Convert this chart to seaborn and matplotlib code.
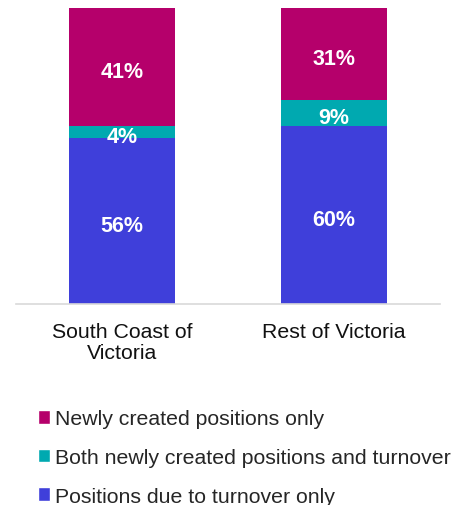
import numpy as np
import pandas as pd
import seaborn as sns
import matplotlib.pyplot as plt
from matplotlib.patches import Patch

regions = ['South Coast of\nVictoria', 'Rest of Victoria']
series = ['Positions due to turnover only',
          'Both newly created positions and turnover',
          'Newly created positions only']
turnover = [56, 60]
both = [4, 9]
newly = [41, 31]
colors = ['#3F3FDA', '#00A9B0', '#B5006B']

sns.set_theme(style='white')
plt.rcParams['font.family'] = ['Liberation Sans', 'DejaVu Sans']

values = np.array([turnover, both, newly])
cum = values.cumsum(axis=0)

fig = plt.figure(figsize=(4.62, 5.06), dpi=100)
ax = fig.add_axes([16 / 462, (506 - 305) / 506, 424 / 462, 296 / 506])

# overlay cumulative bars, tallest first, to get a stacked look
for i in range(len(series) - 1, -1, -1):
    df = pd.DataFrame({'Region': regions, 'Value': cum[i]})
    sns.barplot(data=df, x='Region', y='Value', color=colors[i],
                width=0.5, saturation=1, ax=ax, linewidth=0)

ax.set_ylim(0, 100)
ax.set_xlim(-0.5, 1.5)

# segment labels
for j in range(len(regions)):
    for i in range(len(series)):
        lo = cum[i][j] - values[i][j]
        hi = min(cum[i][j], 100)
        ax.text(j, (lo + hi) / 2 - 1.5, f'{values[i][j]}%', ha='center', va='center',
                color='white', fontsize=15.5, fontweight='bold')

for s in ['top', 'right', 'left']:
    ax.spines[s].set_visible(False)
ax.spines['bottom'].set_color('#D9D9D9')
ax.spines['bottom'].set_linewidth(1.2)
ax.set_yticks([])
ax.set_xlabel('')
ax.set_ylabel('')
ax.tick_params(axis='x', length=0, labelsize=15.3, pad=13, colors='#111111')
for lbl in ax.get_xticklabels():
    lbl.set_linespacing(1.1)

handles = [Patch(facecolor=colors[i], label=series[i]) for i in [2, 1, 0]]
fig.legend(handles=handles, loc='upper left', bbox_to_anchor=(29 / 462, 1 - 402 / 506),
           frameon=False, fontsize=15.3, handlelength=0.6, handleheight=0.6,
           handletextpad=0.22, labelspacing=0.92, borderaxespad=0)

fig.savefig('out.png', dpi=100)
